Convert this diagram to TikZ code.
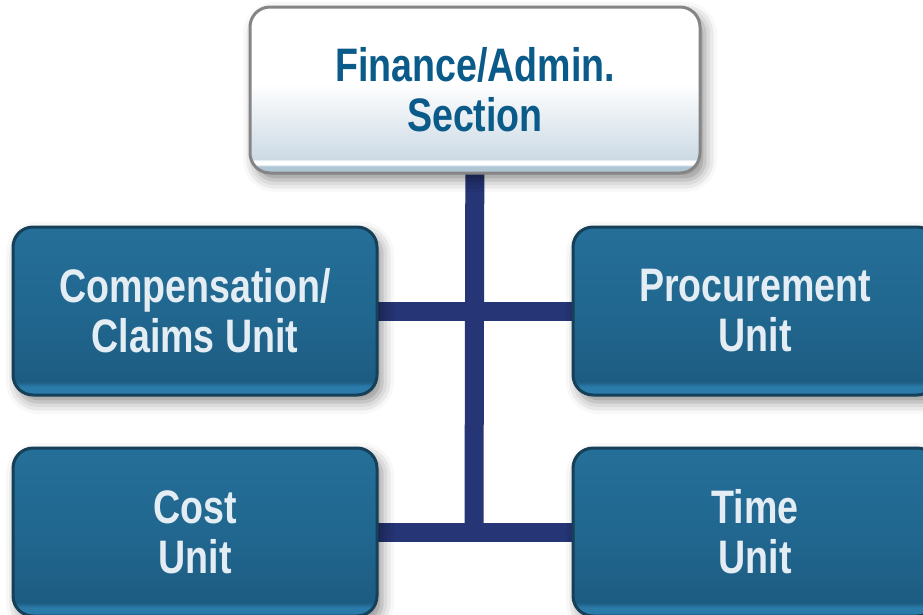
\documentclass[tikz,border=0pt]{standalone}
\usepackage{fontspec}
\setmainfont{Liberation Sans}
\newfontfamily\boxfont[FakeStretch=0.8]{Liberation Sans}
\usetikzlibrary{shadows.blur}
\definecolor{bluetop}{HTML}{246F99}
\definecolor{bluemid}{HTML}{21678F}
\definecolor{bluelow}{HTML}{1D5C82}
\definecolor{bluestrip}{HTML}{2A7BAA}
\definecolor{blueedge}{HTML}{163F58}
\definecolor{greystrip}{HTML}{AFC6D5}
\definecolor{greylow}{HTML}{CCDAE4}
\definecolor{greyedge}{HTML}{858585}
\definecolor{linknavy}{HTML}{253575}
\definecolor{titleblue}{HTML}{0A5A8A}
\definecolor{unittext}{HTML}{E4EDF3}
\pgfdeclareverticalshading{blueshade}{100bp}{color(0bp)=(bluestrip); color(25bp)=(bluestrip); color(27.5bp)=(bluestrip); color(29bp)=(bluelow); color(50bp)=(bluemid); color(75bp)=(bluetop); color(100bp)=(bluetop)}
\pgfdeclareverticalshading{whiteshade}{100bp}{color(0bp)=(greystrip); color(25bp)=(greystrip); color(27bp)=(greystrip); color(27.6bp)=(white); color(28.6bp)=(white); color(29.2bp)=(greylow); color(52bp)=(white); color(100bp)=(white)}
\tikzset{
  boxbase/.style={rounded corners=20pt, line width=3pt, align=center, inner sep=0pt,
    font=\boxfont\bfseries\fontsize{47}{50}\selectfont,
    blur shadow={shadow xshift=5pt, shadow yshift=-7pt, shadow blur radius=12pt, shadow opacity=45}},
  unitbox/.style={boxbase, draw=blueedge, shading=blueshade, text=unittext,
    minimum width=364pt, minimum height=168pt},
  headbox/.style={boxbase, draw=greyedge, shading=whiteshade, text=titleblue,
    minimum width=450pt, minimum height=166pt},
  link/.style={draw=linknavy, line width=19pt}
}
\begin{document}
\begin{tikzpicture}[x=1pt,y=-1pt]
\useasboundingbox (0,0) rectangle (923,614);
\coordinate (topc) at (475,90);
\coordinate (compc) at (195,311);
\coordinate (procc) at (755,311);
\coordinate (costc) at (195,532);
\coordinate (timec) at (755,532);
% connectors first (under the boxes)
\coordinate (j1) at (474,311);
\coordinate (j2) at (474,532);
\draw[link] (compc) -- (procc);
\draw[link] (costc) -- (timec);
\draw[link, line cap=rect] (topc) -- (j2);
% boxes
\node[headbox] (top) at (topc) {Finance/Admin.\\Section};
\node[unitbox] (comp) at (compc) {Compensation/\\Claims Unit};
\node[unitbox] (proc) at (procc) {Procurement\\Unit};
\node[unitbox] (cost) at (costc) {Cost\\Unit};
\node[unitbox] (time) at (timec) {Time\\Unit};
\end{tikzpicture}
\end{document}
